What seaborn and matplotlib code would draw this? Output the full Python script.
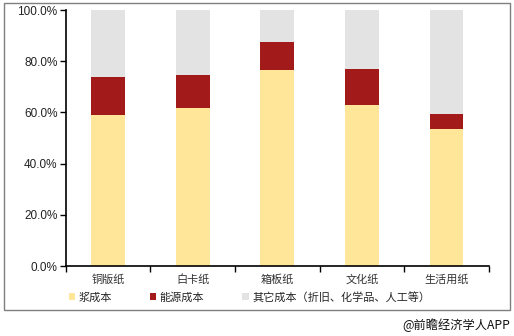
import matplotlib
matplotlib.use("Agg")
import matplotlib.pyplot as plt
import seaborn as sns
import pandas as pd
import numpy as np
from matplotlib.patches import Rectangle, Patch
from matplotlib.ticker import FixedLocator

categories = ["铜版纸", "白卡纸", "箱板纸", "文化纸", "生活用纸"]
pulp_cost = [58.9, 61.8, 76.5, 63.1, 53.7]
energy_cost = [15.1, 12.8, 11.2, 14.0, 5.8]
other_cost = [26.0, 25.4, 12.3, 22.9, 40.5]
series_names = ["浆成本", "能源成本", "其它成本（折旧、化学品、人工等）"]
colors = ["#FFE699", "#A31A1A", "#E3E3E3"]
yticks = [0, 20, 40, 60, 80, 100]

sns.set_theme(style="white")
plt.rcParams["font.family"] = ["Liberation Sans", "Noto Sans CJK SC", "DejaVu Sans"]

df = pd.DataFrame({
    "cat": categories,
    "pulp": pulp_cost,
    "energy": energy_cost,
    "other": other_cost,
})
df["lvl1"] = df["pulp"]
df["lvl2"] = df["pulp"] + df["energy"]
df["lvl3"] = df["lvl2"] + df["other"]

fig = plt.figure(figsize=(5.14, 3.36), dpi=100)
ax = fig.add_axes([0.128, 0.208, 0.823, 0.762])

for col, c in zip(["lvl3", "lvl2", "lvl1"], [colors[2], colors[1], colors[0]]):
    sns.barplot(data=df, x="cat", y=col, color=c, width=0.40, ax=ax,
                saturation=1, linewidth=0, edgecolor="none")

ax.set_xlim(-0.5, len(categories) - 0.5)
ax.set_ylim(0, 100)
ax.set_yticks(yticks)
ax.set_yticklabels([f"{v:.1f}%" for v in yticks], fontsize=8.5, color="#222222")
ax.set_xlabel("")
ax.set_ylabel("")
ax.set_xticklabels(categories, fontsize=8, color="#333333", family=["Noto Sans CJK SC", "DejaVu Sans"])
ax.tick_params(axis="x", which="major", length=0, pad=6)
ax.xaxis.set_minor_locator(FixedLocator(np.arange(-0.5, len(categories), 1.0)))
ax.tick_params(axis="x", which="minor", length=4, width=1, color="black", bottom=True)
ax.tick_params(axis="y", which="major", length=4, width=1, color="black", left=True, pad=2)

for s in ["top", "right"]:
    ax.spines[s].set_visible(False)
for s in ["left", "bottom"]:
    ax.spines[s].set_color("black")
    ax.spines[s].set_linewidth(1.2)

handles = [Patch(facecolor=c, edgecolor="none") for c in colors]
fig.legend(handles, series_names, loc="center", bbox_to_anchor=(0.485, 0.115), ncol=3,
           frameon=False, handlelength=0.6, handleheight=0.6,
           handletextpad=0.3, columnspacing=3.4,
           prop={"family": ["Noto Sans CJK SC", "DejaVu Sans"], "size": 8})

fig.patches.append(Rectangle((4 / 514, 1 - 310 / 336), 506 / 514, 307 / 336,
                             transform=fig.transFigure, fill=False,
                             edgecolor="#7F7F7F", linewidth=1.0))

fig.text(0.993, 0.032, "@前瞻经济学人APP", ha="right", va="center", fontsize=8.8,
         color="#111111", family=["Noto Sans CJK SC", "DejaVu Sans"])

fig.savefig("out.png", dpi=100)
